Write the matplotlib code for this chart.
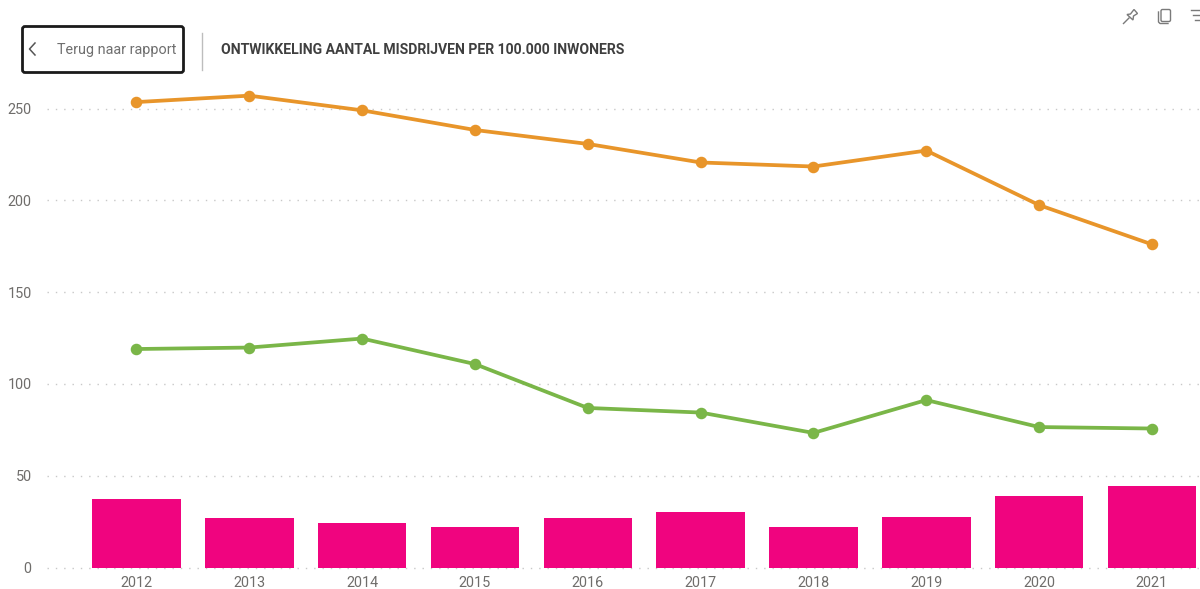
import matplotlib
matplotlib.use("Agg")
import matplotlib.pyplot as plt
from matplotlib.patches import FancyBboxPatch, Polygon

years = [2012, 2013, 2014, 2015, 2016, 2017, 2018, 2019, 2020, 2021]
orange_values = [253.5, 257.0, 249.0, 238.3, 230.7, 220.6, 218.4, 227.1, 197.4, 176.0]
green_values = [119.0, 119.8, 124.7, 110.8, 86.9, 84.4, 73.3, 91.2, 76.5, 75.7]
bar_values = [37.3, 27.0, 24.2, 21.8, 27.2, 30.2, 22.0, 27.5, 39.0, 44.4]
y_ticks = [0, 50, 100, 150, 200, 250]
title = "ONTWIKKELING AANTAL MISDRIJVEN PER 100.000 INWONERS"
button = "Terug naar rapport"

W, H = 1200, 589
fig = plt.figure(figsize=(W / 100, H / 100), dpi=100, facecolor="white")
left, right, bottom, top = 47, 1200, 567.5, 90
ax = fig.add_axes([left / W, 1 - bottom / H, (right - left) / W, (bottom - top) / H])
ax.set_xlim(2012 - 0.793, 2021 + 0.426)
ax.set_ylim(0, (bottom - top) / 1.836)
for s in ax.spines.values():
    s.set_visible(False)

ax.set_yticks(y_ticks)
ax.set_xticks(years)
ax.grid(axis="y", color="#c8c8c8", linewidth=1, linestyle=(0, (1, 5)), zorder=0)
for gl in ax.get_ygridlines():
    gl.set_clip_on(False)
ax.tick_params(length=0, labelsize=10.4, labelcolor="#6f6d6b")
ax.tick_params(axis="y", pad=11)
ax.tick_params(axis="x", pad=6)
for lab in ax.get_xticklabels() + ax.get_yticklabels():
    lab.set_fontfamily("Roboto")

ax.bar(years, bar_values, width=0.785, color="#f0047f", zorder=2, clip_on=False)
ax.plot(years, orange_values, color="#e8952a", lw=2.7, marker="o", ms=7.3, zorder=3, clip_on=False)
ax.plot(years, green_values, color="#7ab648", lw=2.7, marker="o", ms=7.3, zorder=3, clip_on=False)

# page-level furniture in pixel coordinates
ui = fig.add_axes([0, 0, 1, 1], facecolor="none", zorder=5)
ui.set_xlim(0, W)
ui.set_ylim(H, 0)
ui.axis("off")
ui.add_patch(FancyBboxPatch((22.5, 26.5), 161, 46, boxstyle="round,pad=0,rounding_size=2.5",
                            fc="white", ec="#1a1a1a", lw=2))
ui.plot([35, 29.5, 35], [43, 49, 55], color="#555555", lw=1.1)
ui.text(116.5, 50, button, fontsize=10.4, color="#6f6f6f", family="Roboto", ha="center", va="center")
ui.plot([201.5, 201.5], [33, 69.5], color="#bdbdbd", lw=1)
ui.text(221, 49.5, title, fontsize=10.08, fontweight="bold", color="#3f3f3f", family="Roboto", ha="left", va="center")

icon = "#7a7a7a"
ui.add_patch(Polygon([(1134, 9.5), (1137.5, 13.5), (1133.5, 16), (1133, 20), (1127, 14.5), (1130.5, 14)],
                     closed=True, fc="none", ec=icon, lw=1))
ui.plot([1123.5, 1129], [23.5, 18], color=icon, lw=1)
ui.add_patch(FancyBboxPatch((1161, 9.5), 9.5, 12, boxstyle="round,pad=0,rounding_size=1.5", fc="white", ec=icon, lw=1))
ui.plot([1158.5, 1158.5, 1160, 1168], [12, 22, 23.5, 23.5], color=icon, lw=1)
ui.plot([1191, 1200], [10, 10], color=icon, lw=1)
ui.plot([1193, 1200], [15, 15], color=icon, lw=1)
ui.plot([1195, 1200], [20, 20], color=icon, lw=1)

fig.savefig("out.png", dpi=100)
